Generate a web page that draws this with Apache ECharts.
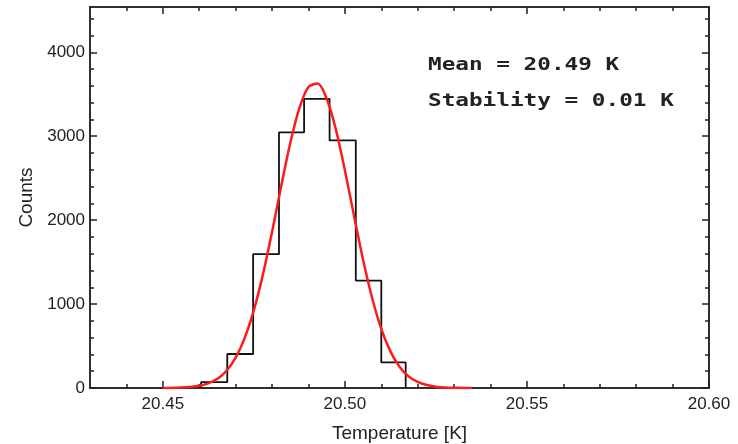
<!DOCTYPE html>
<html>
<head>
<meta charset="utf-8">
<script src="https://cdn.jsdelivr.net/npm/echarts@6/dist/echarts.min.js"></script>
<style>
html, body { margin: 0; padding: 0; background: #fff; }
#chart { width: 738px; height: 444px; }
</style>
</head>
<body>
<div id="chart"></div>
<script>
// histogram bins (K) and counts
var binEdges = [20.4605, 20.4677, 20.4748, 20.4819, 20.4888, 20.4958, 20.5030, 20.5100, 20.5167];
var binCounts = [70, 405, 1595, 3045, 3445, 2950, 1280, 305];

// fitted curve, read at 0.0025 K steps
var fitX = [20.4500, 20.4525, 20.4550, 20.4575, 20.4600, 20.4625, 20.4650, 20.4675, 20.4700,
  20.4725, 20.4750, 20.4775, 20.4800, 20.4825, 20.4850, 20.4875, 20.4900, 20.4925, 20.4950,
  20.4975, 20.5000, 20.5025, 20.5050, 20.5075, 20.5100, 20.5125, 20.5150, 20.5175, 20.5200,
  20.5225, 20.5250, 20.5275, 20.5300, 20.5325, 20.5350];
var fitY = [1, 2, 5, 12, 26, 56, 110, 206, 362,
  597, 927, 1354, 1860, 2403, 2920, 3336, 3587, 3627, 3449,
  3085, 2595, 2054, 1529, 1070, 705, 436, 254, 139, 72,
  35, 16, 7, 3, 1, 0];

var xTicksMajor = [20.45, 20.50, 20.55, 20.60];
var xTicksMinor = [20.44, 20.46, 20.47, 20.48, 20.49, 20.51, 20.52, 20.53, 20.54, 20.56, 20.57, 20.58, 20.59];
var yTicksMajor = [0, 1000, 2000, 3000, 4000];
var yTicksMinor = [200, 400, 600, 800, 1200, 1400, 1600, 1800, 2200, 2400, 2600, 2800,
  3200, 3400, 3600, 3800, 4200, 4400];

var xMin = 20.43, xMax = 20.60, yMin = 0, yMax = 4540;

var chart = echarts.init(document.getElementById('chart'));

var lineStyle = { color: '#222', width: 1.5 };
var labelFont = { color: '#222', fontFamily: 'Liberation Sans, Arial, sans-serif', fontSize: 17 };
var nameFont = { color: '#222', fontFamily: 'Liberation Sans, Arial, sans-serif', fontSize: 19 };

function xAx(pos, ticks, len, withLabel) {
  return {
    type: 'value', position: pos, min: xMin, max: xMax,
    axisLine: { show: true, onZero: false, lineStyle: lineStyle },
    axisTick: { show: true, inside: true, length: len, customValues: ticks, lineStyle: lineStyle },
    axisLabel: withLabel ? Object.assign({
      customValues: ticks, margin: 8,
      formatter: function (v) { return v.toFixed(2); }
    }, labelFont) : { show: false },
    splitLine: { show: false }
  };
}
function yAx(pos, ticks, len, withLabel) {
  return {
    type: 'value', position: pos, min: yMin, max: yMax,
    axisLine: { show: true, onZero: false, lineStyle: lineStyle },
    axisTick: { show: true, inside: true, length: len, customValues: ticks, lineStyle: lineStyle },
    axisLabel: withLabel ? Object.assign({
      customValues: ticks, margin: 5,
      formatter: function (v) { return String(v); }
    }, labelFont) : { show: false },
    splitLine: { show: false }
  };
}

var xAxes = [
  xAx('bottom', xTicksMajor, 7, true),
  xAx('bottom', xTicksMinor, 4, false),
  xAx('top', xTicksMajor, 7, false),
  xAx('top', xTicksMinor, 4, false)
];
xAxes[0].name = 'Temperature [K]';
xAxes[0].nameLocation = 'middle';
xAxes[0].nameGap = 36;
xAxes[0].nameTextStyle = nameFont;

var yAxes = [
  yAx('left', yTicksMajor, 7, true),
  yAx('left', yTicksMinor, 4, false),
  yAx('right', yTicksMajor, 7, false),
  yAx('right', yTicksMinor, 4, false)
];
yAxes[0].name = 'Counts';
yAxes[0].nameLocation = 'middle';
yAxes[0].nameGap = 46;
yAxes[0].nameTextStyle = nameFont;

// outline of the histogram as a stepped line
var histData = [[binEdges[0], 0]];
binCounts.forEach(function (c, i) { histData.push([binEdges[i], c]); });
histData.push([binEdges[binEdges.length - 1], 0]);

var fitData = fitX.map(function (x, i) { return [x, fitY[i]]; });

var monoText = {
  fill: '#222', fontFamily: 'DejaVu Sans Mono, monospace', fontSize: 18, fontWeight: 'bold',
  textVerticalAlign: 'middle'
};

chart.setOption({
  animation: false,
  backgroundColor: '#fff',
  grid: { left: 90, right: 29, top: 7, bottom: 56, containLabel: false, outerBoundsMode: 'none' },
  xAxis: xAxes,
  yAxis: yAxes,
  series: [
    {
      name: 'hist', type: 'line', step: 'end', data: histData,
      showSymbol: false, lineStyle: { color: '#111', width: 1.8 }, z: 2
    },
    {
      name: 'fit', type: 'line', data: fitData, smooth: 0.3,
      showSymbol: false, lineStyle: { color: '#ff1a1a', width: 2.5 }, z: 3
    }
  ],
  graphic: [
    { type: 'text', left: 428, top: 56, scaleX: 1.26, style: Object.assign({ text: 'Mean = 20.49 K' }, monoText) },
    { type: 'text', left: 428, top: 92, scaleX: 1.26, style: Object.assign({ text: 'Stability = 0.01 K' }, monoText) }
  ]
});
</script>
</body>
</html>
